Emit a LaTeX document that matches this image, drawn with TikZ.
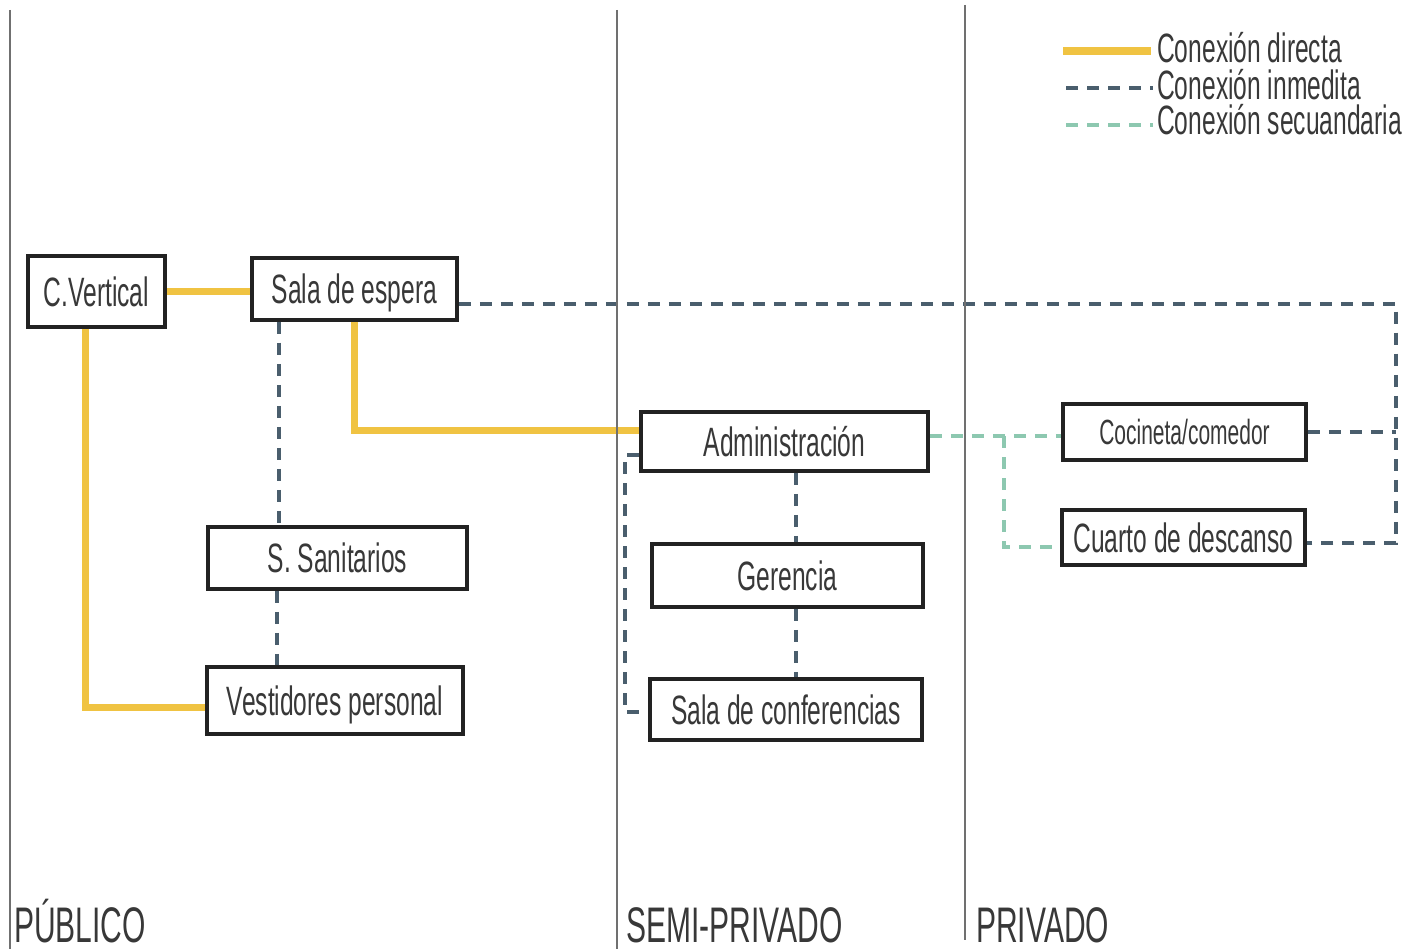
\documentclass[tikz,border=0pt]{standalone}
\usepackage{fontspec}
\setmainfont{Liberation Sans}[FakeStretch=0.6]
\usetikzlibrary{backgrounds}
\definecolor{txt}{HTML}{383838}
\definecolor{boxc}{HTML}{222222}
\definecolor{yel}{HTML}{F0C342}
\definecolor{blu}{HTML}{4A5E6D}
\definecolor{grn}{HTML}{8DC8B0}
\definecolor{zone}{HTML}{707070}
\tikzset{
  box/.style={draw=boxc, line width=3.5pt, fill=white, text=txt, inner sep=2pt,
    text height=29.5pt, text depth=0pt, font=\fontsize{41}{49}\selectfont},
  lbl/.style={text=txt, inner sep=0pt, anchor=base west, text depth=0pt},
  direct/.style={draw=yel, line width=7pt},
  inmed/.style={draw=blu, line width=4pt, dash pattern=on 12pt off 9pt},
  secund/.style={draw=grn, line width=4pt, dash pattern=on 12pt off 9pt},
  zoneline/.style={draw=zone, line width=2pt}
}
\begin{document}
\begin{tikzpicture}[x=1pt,y=-1pt]
\useasboundingbox (0,0) rectangle (1418,949);
% zone lines
\coordinate (z1t) at (10,10);   \coordinate (z1b) at (10,949);
\coordinate (z2t) at (617,10);  \coordinate (z2b) at (617,949);
\coordinate (z3t) at (965,5);   \coordinate (z3b) at (965,940);
\draw[zoneline] (z1t) -- (z1b);
\draw[zoneline] (z2t) -- (z2b);
\draw[zoneline] (z3t) -- (z3b);
% zone labels
\node[lbl, text height=36pt, font=\fontsize{50}{60}\selectfont] (zp) at (14,942) {PÚBLICO};
\node[lbl, text height=36pt, font=\fontsize{50}{60}\selectfont] (zs) at (626,942) {SEMI-PRIVADO};
\node[lbl, text height=36pt, font=\fontsize{50}{60}\selectfont] (zr) at (976,942) {PRIVADO};
% boxes
\node[box, minimum width=137pt, minimum height=71pt] (cv) at (96.5,291.5) {C.Vertical};
\node[box, minimum width=205pt, minimum height=62pt] (se) at (354.5,289) {Sala de espera};
\node[box, minimum width=259pt, minimum height=62pt] (ss) at (337.5,558) {S. Sanitarios};
\node[box, minimum width=256pt, minimum height=67pt] (vp) at (335,700.5) {Vestidores personal};
\node[box, minimum width=287pt, minimum height=59pt] (adm) at (784.5,441.5) {Administración};
\node[box, minimum width=271pt, minimum height=63pt] (ger) at (787.5,575.5) {Gerencia};
\node[box, minimum width=272pt, minimum height=61pt] (sc) at (786,709.5) {Sala de conferencias};
\node[box, minimum width=243pt, minimum height=56pt, text height=25pt, font=\fontsize{35}{42}\selectfont] (cc) at (1184.5,432) {Cocineta/comedor};
\node[box, minimum width=243pt, minimum height=55pt] (cd) at (1183.5,537.5) {Cuarto de descanso};
% connectors
\begin{pgfonlayer}{background}
% direct
\draw[direct] (cv.east) -- (cv.east -| se.west);
\coordinate (y1) at ([xshift=-11.5pt]cv.south);
\coordinate (y2) at ([yshift=-6.5pt]vp.west);
\draw[direct] (y1) |- (y2);
\coordinate (y3) at ([yshift=11.5pt]adm.west);
\draw[direct] (se.south) |- (y3);
% inmediata
\coordinate (s1) at ([yshift=-15pt]se.east);
\coordinate (rb) at (1396,543);
\coordinate (e1) at ([yshift=-5.5pt]cd.east);
\draw[inmed] (s1) -| (rb) -- (e1);
\draw[inmed] (cc.east) -- (cc.east -| rb);
\coordinate (a1) at ([xshift=-75.5pt]se.south);
\draw[inmed] (a1) -- (a1 |- ss.north);
\coordinate (a2) at ([xshift=-60.5pt]ss.south);
\draw[inmed] (a2) -- (a2 |- vp.north);
\coordinate (a3) at ([xshift=11.5pt]adm.south);
\draw[inmed] (a3) -- (a3 |- ger.north);
\coordinate (a4) at ([xshift=8.5pt]ger.south);
\draw[inmed] (a4) -- (a4 |- sc.north);
\coordinate (a5) at ([yshift=-13.5pt]adm.west);
\coordinate (a6) at ([yshift=-2.5pt]sc.west);
\draw[inmed] (a5) -- ++(-14,0) |- (a6);
% secundaria
\coordinate (g1) at ([yshift=5.5pt]adm.east);
\draw[secund] (g1) -- (g1 -| cc.west);
\coordinate (g2) at (1004,436);
\coordinate (g3) at ([yshift=-9.5pt]cd.west);
\draw[secund] (g2) |- (g3);
\end{pgfonlayer}
% legend
\coordinate (l1a) at (1063,51); \coordinate (l1b) at (1151,51);
\coordinate (l2a) at (1066,88); \coordinate (l2b) at (1153,88);
\coordinate (l3a) at (1066,125); \coordinate (l3b) at (1153,125);
\draw[direct, line width=8pt] (l1a) -- (l1b);
\draw[inmed] (l2a) -- (l2b);
\draw[secund] (l3a) -- (l3b);
\node[lbl, text height=29pt, font=\fontsize{41}{48}\selectfont] (t1) at (1157,63) {Conexión directa};
\node[lbl, text height=29pt, font=\fontsize{41}{48}\selectfont] (t2) at (1157,100) {Conexión inmedita};
\node[lbl, text height=29pt, font=\fontsize{41}{48}\selectfont] (t3) at (1157,135) {Conexión secuandaria};
\end{tikzpicture}
\end{document}
